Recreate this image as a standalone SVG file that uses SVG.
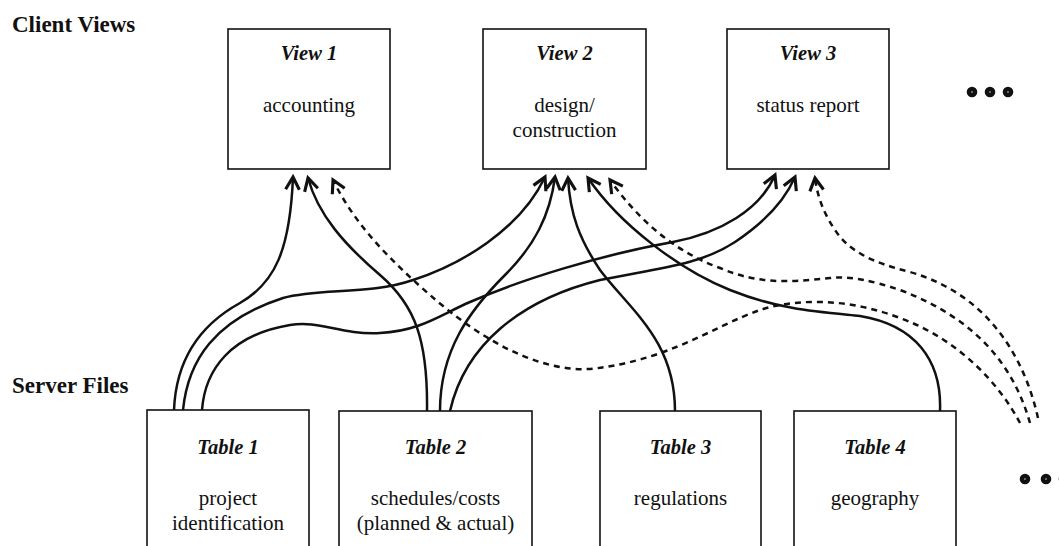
<svg xmlns="http://www.w3.org/2000/svg" width="1059" height="546" viewBox="0 0 1059 546">
<style>
.box{fill:#fff;stroke:#111;stroke-width:1.6}
.hdr{font-family:"Liberation Serif",serif;font-weight:bold;font-size:23px;fill:#111}
.ttl{font-family:"Liberation Serif",serif;font-weight:bold;font-style:italic;font-size:20.5px;fill:#111;text-anchor:middle}
.txt{font-family:"Liberation Serif",serif;font-size:21px;fill:#111;text-anchor:middle}
.c{fill:none;stroke:#111;stroke-width:2.5;marker-end:url(#arr)}
.d{stroke-dasharray:6 5}
.dot{fill:#fff;stroke:#111;stroke-width:4.6}
</style>
<defs>
<marker id="arr" markerUnits="userSpaceOnUse" markerWidth="20" markerHeight="20" viewBox="-12 -8 14 16" refX="0" refY="0" orient="auto">
<path d="M-10,-5.5 L0,0 L-10,5.5" fill="none" stroke="#111" stroke-width="2.5"/>
</marker>
</defs>
<rect width="1059" height="546" fill="#fff"/>
<text class="hdr" x="12" y="32">Client Views</text>
<text class="hdr" x="12" y="393">Server Files</text>
<g id="view1"><rect class="box" x="228" y="29" width="162" height="140"/><text class="ttl" x="309" y="60">View 1</text><text class="txt" x="309" y="112">accounting</text></g>
<g id="view2"><rect class="box" x="483" y="29" width="163" height="140"/><text class="ttl" x="564.5" y="60">View 2</text><text class="txt" x="564.5" y="112">design/</text><text class="txt" x="564.5" y="137">construction</text></g>
<g id="view3"><rect class="box" x="727" y="29" width="162" height="140"/><text class="ttl" x="808" y="60">View 3</text><text class="txt" x="808" y="112">status report</text></g>
<g id="more-views"><circle class="dot" cx="972" cy="92" r="3"/><circle class="dot" cx="990" cy="92" r="3"/><circle class="dot" cx="1008" cy="92" r="3"/></g>
<g id="table1"><rect class="box" x="147" y="410" width="162" height="150"/><text class="ttl" x="228" y="454">Table 1</text><text class="txt" x="228" y="505">project</text><text class="txt" x="228" y="530">identification</text></g>
<g id="table2"><rect class="box" x="339" y="411" width="193" height="150"/><text class="ttl" x="435.5" y="454">Table 2</text><text class="txt" x="435.5" y="505">schedules/costs</text><text class="txt" x="435.5" y="530">(planned &amp; actual)</text></g>
<g id="table3"><rect class="box" x="600" y="411" width="161" height="150"/><text class="ttl" x="680.5" y="454">Table 3</text><text class="txt" x="680.5" y="505">regulations</text></g>
<g id="table4"><rect class="box" x="794" y="411" width="162" height="150"/><text class="ttl" x="875" y="454">Table 4</text><text class="txt" x="875" y="505">geography</text></g>
<g id="more-tables"><circle class="dot" cx="1025" cy="479" r="3"/><circle class="dot" cx="1046" cy="479" r="3"/><circle class="dot" cx="1064" cy="479" r="3"/></g>
<g id="connectors">
<path class="c" d="M174,410 C176,360 200,325 240,303 C275,283 290,250 293,177"/>
<path class="c" d="M183,410 C188,360 215,320 283,298 C320,288 370,295 413,280 C460,265 520,230 545,177"/>
<path class="c" d="M202,410 C205,370 230,335 290,325 C320,320 340,335 380,333 C420,331 440,315 470,302 C520,280 600,255 673,242 C720,233 760,210 775,175"/>
<path class="c" d="M427,411 C428,340 415,305 380,275 C345,245 318,215 308,178"/>
<path class="c" d="M440,411 C440,350 470,310 505,275 C535,245 550,215 555,177"/>
<path class="c" d="M450,411 C465,345 520,300 600,280 C660,268 700,265 735,242 C765,222 785,200 795,177"/>
<path class="c" d="M675,411 C675,340 630,310 600,270 C580,240 570,215 568,178"/>
<path class="c" d="M940,411 C942,360 915,325 860,316 C820,312 780,310 730,290 C680,270 620,225 588,178"/>
<path class="c d" d="M1020,423 C1000,385 960,340 900,318 C860,303 820,298 780,305 C730,313 680,360 590,369 C530,372 470,330 430,295 C390,260 355,225 333,180"/>
<path class="c d" d="M1030,423 C1015,370 980,320 900,290 C870,280 850,276 830,278 C790,282 760,285 720,268 C670,250 635,215 610,180"/>
<path class="c d" d="M1038,418 C1025,360 990,295 910,272 C870,262 848,250 835,230 C825,215 818,200 815,178"/>
</g>
</svg>
